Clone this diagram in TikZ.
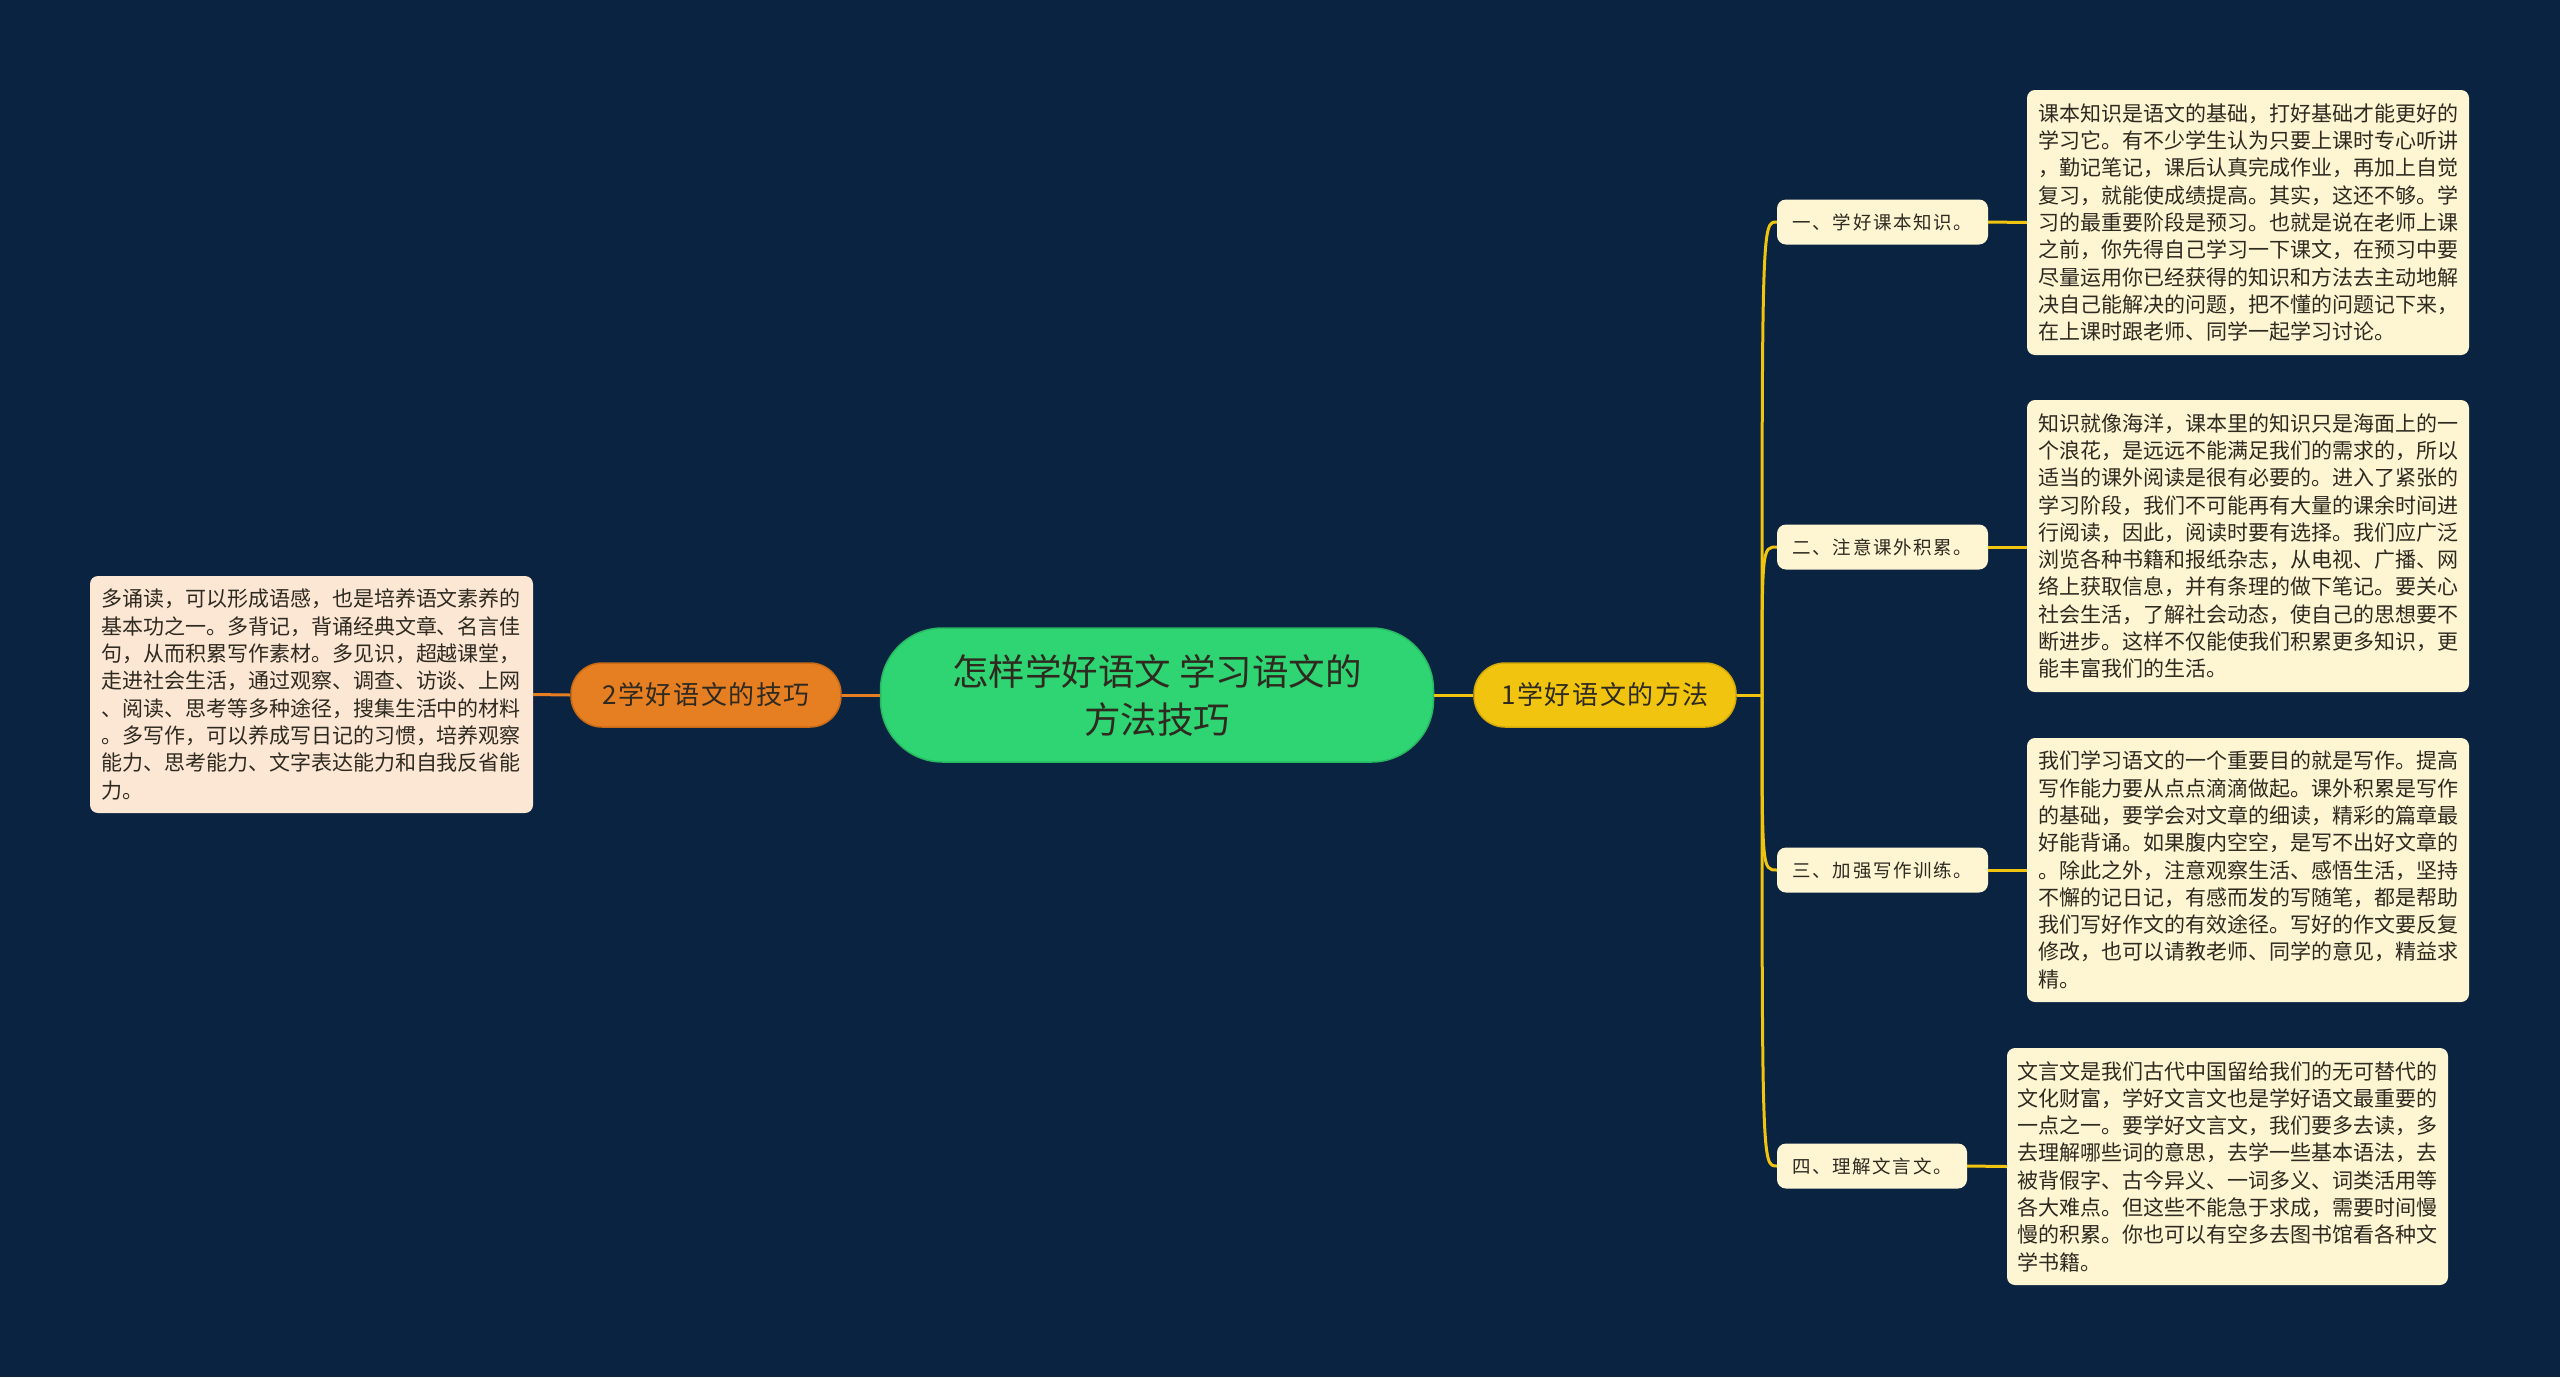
\documentclass[tikz,border=0pt]{standalone}
\usepackage{fontspec}
\setmainfont{Noto Sans CJK SC}
\definecolor{bg}{HTML}{0A2340}
\definecolor{rootc}{HTML}{2FD473}
\definecolor{rootb}{HTML}{27B862}
\definecolor{orc}{HTML}{E67E22}
\definecolor{orb}{HTML}{C96A15}
\definecolor{ylc}{HTML}{F1C40F}
\definecolor{ylb}{HTML}{D4AA08}
\definecolor{cream}{HTML}{FEF5D3}
\definecolor{peach}{HTML}{FCE6D4}
\definecolor{txt}{HTML}{2E2A20}
\tikzset{
  rootnode/.style={fill=rootc,draw=rootb,line width=1.5pt,rounded corners=62pt,minimum width=553pt,minimum height=134pt,align=center,text=txt,font=\fontsize{36.5}{48}\selectfont},
  orangenode/.style={fill=orc,draw=orb,line width=1.5pt,rounded corners=31pt,minimum width=270pt,minimum height=64pt,text=txt,font=\fontsize{26}{32}\selectfont\addfontfeature{LetterSpace=6}},
  yellownode/.style={fill=ylc,draw=ylb,line width=1.5pt,rounded corners=31pt,minimum width=262pt,minimum height=64pt,text=txt,font=\fontsize{26}{32}\selectfont\addfontfeature{LetterSpace=6}},
  subnode/.style={fill=cream,rounded corners=9pt,minimum height=45pt,text=txt,inner xsep=0pt,font=\fontsize{18.5}{22}\selectfont\addfontfeature{LetterSpace=9}},
  textbox/.style={fill=#1,rounded corners=8pt,text=txt,align=left,inner sep=0pt,font=\fontsize{21}{27.3}\selectfont},
  yl/.style={draw=ylc,line width=3pt},
  orl/.style={draw=orc,line width=3pt},
}
\begin{document}
\begin{tikzpicture}[x=1pt,y=-1pt]
\useasboundingbox (0,0) rectangle (2560,1377);
\fill[bg] (0,0) rectangle (2560,1377);

\node[rootnode] (root) at (1157,695) {怎样学好语文 学习语文的\\方法技巧};
\node[orangenode] (b2) at (706,695) {2学好语文的技巧};
\node[yellownode] (b1) at (1605,695) {1学好语文的方法};

\node[textbox=peach,minimum width=443pt,minimum height=237pt] (lt) at (311.5,694.5) {%
\begin{minipage}{421pt}\fontsize{21}{27.3}\selectfont
多诵读，可以形成语感，也是培养语文素养的\\
基本功之一。多背记，背诵经典文章、名言佳\\
句，从而积累写作素材。多见识，超越课堂，\\
走进社会生活，通过观察、调查、访谈、上网\\
、阅读、思考等多种途径，搜集生活中的材料\\
。多写作，可以养成写日记的习惯，培养观察\\
能力、思考能力、文字表达能力和自我反省能\\
力。\end{minipage}};

\node[subnode,minimum width=211pt] (c1) at (1882.5,222) {一、学好课本知识。};
\node[subnode,minimum width=211pt] (c2) at (1882.5,547) {二、注意课外积累。};
\node[subnode,minimum width=211pt] (c3) at (1882.5,870) {三、加强写作训练。};
\node[subnode,minimum width=190pt] (c4) at (1872,1166) {四、理解文言文。};

\node[textbox=cream,minimum width=442pt,minimum height=265pt] (t1) at (2248,222.5) {%
\begin{minipage}{420pt}\fontsize{21}{27.3}\selectfont
课本知识是语文的基础，打好基础才能更好的\\
学习它。有不少学生认为只要上课时专心听讲\\
，勤记笔记，课后认真完成作业，再加上自觉\\
复习，就能使成绩提高。其实，这还不够。学\\
习的最重要阶段是预习。也就是说在老师上课\\
之前，你先得自己学习一下课文，在预习中要\\
尽量运用你已经获得的知识和方法去主动地解\\
决自己能解决的问题，把不懂的问题记下来，\\
在上课时跟老师、同学一起学习讨论。\end{minipage}};

\node[textbox=cream,minimum width=442pt,minimum height=292pt] (t2) at (2248,546) {%
\begin{minipage}{420pt}\fontsize{21}{27.3}\selectfont
知识就像海洋，课本里的知识只是海面上的一\\
个浪花，是远远不能满足我们的需求的，所以\\
适当的课外阅读是很有必要的。进入了紧张的\\
学习阶段，我们不可能再有大量的课余时间进\\
行阅读，因此，阅读时要有选择。我们应广泛\\
浏览各种书籍和报纸杂志，从电视、广播、网\\
络上获取信息，并有条理的做下笔记。要关心\\
社会生活，了解社会动态，使自己的思想要不\\
断进步。这样不仅能使我们积累更多知识，更\\
能丰富我们的生活。\end{minipage}};

\node[textbox=cream,minimum width=442pt,minimum height=264pt] (t3) at (2248,870) {%
\begin{minipage}{420pt}\fontsize{21}{27.3}\selectfont
我们学习语文的一个重要目的就是写作。提高\\
写作能力要从点点滴滴做起。课外积累是写作\\
的基础，要学会对文章的细读，精彩的篇章最\\
好能背诵。如果腹内空空，是写不出好文章的\\
。除此之外，注意观察生活、感悟生活，坚持\\
不懈的记日记，有感而发的写随笔，都是帮助\\
我们写好作文的有效途径。写好的作文要反复\\
修改，也可以请教老师、同学的意见，精益求\\
精。\end{minipage}};

\node[textbox=cream,minimum width=441pt,minimum height=237pt] (t4) at (2227.5,1166.5) {%
\begin{minipage}{420pt}\fontsize{21}{27.3}\selectfont
文言文是我们古代中国留给我们的无可替代的\\
文化财富，学好文言文也是学好语文最重要的\\
一点之一。要学好文言文，我们要多去读，多\\
去理解哪些词的意思，去学一些基本语法，去\\
被背假字、古今异义、一词多义、词类活用等\\
各大难点。但这些不能急于求成，需要时间慢\\
慢的积累。你也可以有空多去图书馆看各种文\\
学书籍。\end{minipage}};

% connectors
\draw[orl] (root.west) -- (b2.east);
\draw[orl] (b2.west) -- (lt.east);
\draw[yl] (root.east) -- (b1.west);
\coordinate (fork) at (1762,695);
\draw[yl] (b1.east) -- (fork);
\foreach \c in {c1,c2,c3,c4}{
  \draw[yl] (fork) .. controls (fork |- \c.west) and (fork |- \c.west) .. (\c.west);
}
\draw[yl] (c1.east) -- (t1.west);
\draw[yl] (c2.east) -- (c2.east -| t2.west);
\draw[yl] (c3.east) -- (t3.west);
\draw[yl] (c4.east) -- (t4.west);
\end{tikzpicture}
\end{document}
